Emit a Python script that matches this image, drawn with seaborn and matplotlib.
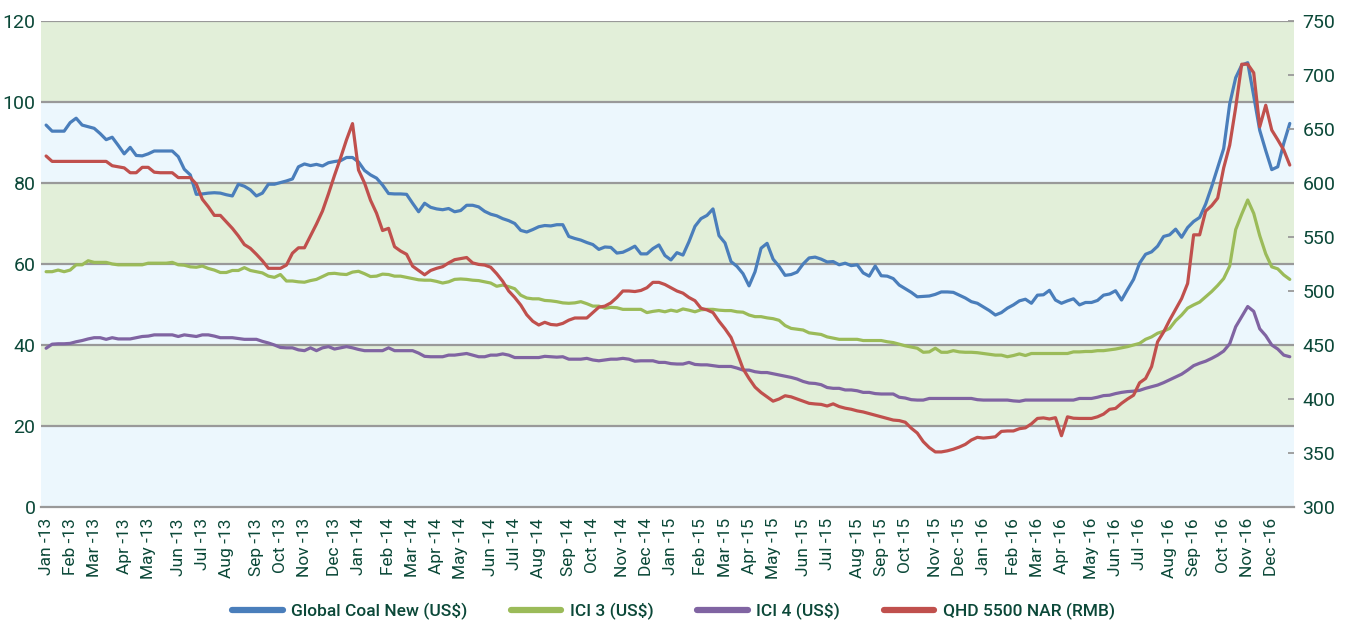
import seaborn as sns
import pandas as pd
import numpy as np
import matplotlib.pyplot as plt
from matplotlib.lines import Line2D

# weekly prices, Jan-13 .. Dec-16
dates = pd.date_range("2013-01-04", periods=208, freq="7D")

global_coal = [
    94.3, 92.8, 92.8, 92.8, 94.9, 96.0, 94.3, 93.9, 93.5, 92.2,
    90.7, 91.3, 89.3, 87.2, 88.8, 86.8, 86.7, 87.2, 87.9, 87.9,
    87.9, 87.9, 86.5, 83.4, 82.0, 77.2, 77.3, 77.5, 77.6, 77.5,
    77.1, 76.8, 79.7, 79.2, 78.3, 76.8, 77.5, 79.7, 79.7, 80.1,
    80.5, 81.0, 84.0, 84.7, 84.3, 84.6, 84.2, 85.0, 85.3, 85.5,
    86.3, 86.3, 85.2, 83.1, 82.0, 81.2, 79.5, 77.4, 77.3, 77.3,
    77.2, 75.0, 72.9, 75.0, 74.0, 73.6, 73.4, 73.7, 72.9, 73.2,
    74.5, 74.5, 74.1, 73.0, 72.3, 71.9, 71.2, 70.7, 70.0, 68.3,
    67.9, 68.5, 69.2, 69.5, 69.4, 69.7, 69.7, 66.8, 66.3, 65.9,
    65.3, 64.8, 63.6, 64.2, 64.1, 62.7, 62.9, 63.6, 64.4, 62.5,
    62.5, 63.8, 64.7, 62.1, 61.0, 62.8, 62.2, 65.5, 69.3, 71.2,
    72.0, 73.6, 67.0, 65.2, 60.6, 59.4, 57.6, 54.6, 58.1, 63.9,
    65.1, 61.2, 59.4, 57.2, 57.4, 58.0, 60.0, 61.5, 61.7, 61.2,
    60.5, 60.6, 59.8, 60.2, 59.6, 59.8, 57.8, 57.0, 59.5, 57.1,
    57.0, 56.4, 54.8, 53.9, 53.0, 51.9, 52.0, 52.1, 52.5, 53.1,
    53.1, 53.0, 52.3, 51.6, 50.7, 50.3, 49.4, 48.5, 47.4, 48.0,
    49.1, 49.9, 50.9, 51.3, 50.3, 52.3, 52.4, 53.5, 51.1, 50.3,
    50.9, 51.4, 49.9, 50.5, 50.5, 51.0, 52.3, 52.6, 53.4, 51.1,
    53.7, 56.2, 60.2, 62.4, 63.0, 64.4, 66.8, 67.2, 68.6, 66.6,
    69.0, 70.5, 71.5, 74.8, 79.1, 83.8, 88.5, 99.5, 106.0, 109.1,
    109.7, 101.5, 93.0, 88.0, 83.3, 84.0, 89.8, 94.7,
]

ici3 = [
    58.1, 58.1, 58.5, 58.1, 58.5, 59.8, 59.8, 60.8, 60.4, 60.4,
    60.4, 60.0, 59.8, 59.8, 59.8, 59.8, 59.8, 60.2, 60.2, 60.2,
    60.2, 60.4, 59.8, 59.7, 59.3, 59.2, 59.5, 58.9, 58.5, 57.9,
    57.9, 58.4, 58.4, 59.1, 58.4, 58.1, 57.8, 57.0, 56.7, 57.4,
    55.8, 55.8, 55.6, 55.5, 55.9, 56.2, 56.9, 57.6, 57.7, 57.5,
    57.4, 58.0, 58.2, 57.6, 56.9, 57.0, 57.5, 57.4, 57.0, 57.0,
    56.7, 56.4, 56.1, 56.0, 56.0, 55.7, 55.3, 55.6, 56.2, 56.3,
    56.2, 56.0, 55.9, 55.6, 55.3, 54.5, 54.8, 54.4, 53.9, 52.3,
    51.6, 51.4, 51.4, 51.0, 50.9, 50.7, 50.4, 50.3, 50.4, 50.7,
    50.2, 49.6, 49.6, 49.1, 49.3, 49.2, 48.8, 48.8, 48.8, 48.8,
    48.0, 48.3, 48.5, 48.2, 48.6, 48.3, 48.9, 48.6, 48.2, 48.7,
    48.8, 48.8, 48.6, 48.5, 48.5, 48.2, 48.1, 47.4, 47.0, 47.0,
    46.7, 46.5, 46.1, 44.8, 44.1, 43.9, 43.7, 43.0, 42.8, 42.6,
    42.0, 41.7, 41.4, 41.4, 41.4, 41.4, 41.1, 41.1, 41.1, 41.1,
    40.8, 40.6, 40.2, 39.8, 39.5, 39.2, 38.2, 38.3, 39.2, 38.2,
    38.2, 38.6, 38.3, 38.2, 38.2, 38.1, 37.9, 37.7, 37.5, 37.5,
    37.1, 37.4, 37.8, 37.4, 37.9, 37.9, 37.9, 37.9, 37.9, 37.9,
    37.9, 38.3, 38.3, 38.4, 38.4, 38.6, 38.6, 38.8, 39.0, 39.3,
    39.6, 40.0, 40.4, 41.4, 42.0, 42.9, 43.4, 44.1, 46.0, 47.4,
    49.1, 49.9, 50.6, 51.9, 53.2, 54.7, 56.4, 59.5, 68.5, 72.3,
    75.8, 72.5, 67.0, 62.5, 59.3, 58.8, 57.3, 56.2,
]

ici4 = [
    39.2, 40.2, 40.3, 40.3, 40.4, 40.8, 41.1, 41.5, 41.8, 41.8,
    41.4, 41.8, 41.5, 41.5, 41.5, 41.8, 42.1, 42.2, 42.5, 42.5,
    42.5, 42.5, 42.1, 42.5, 42.3, 42.1, 42.5, 42.5, 42.2, 41.8,
    41.8, 41.8, 41.6, 41.4, 41.4, 41.4, 40.9, 40.5, 40.0, 39.4,
    39.3, 39.3, 38.8, 38.6, 39.3, 38.6, 39.3, 39.6, 39.0, 39.3,
    39.6, 39.3, 38.9, 38.6, 38.6, 38.6, 38.6, 39.3, 38.6, 38.6,
    38.6, 38.6, 38.0, 37.2, 37.1, 37.1, 37.1, 37.5, 37.5, 37.7,
    37.9, 37.5, 37.1, 37.1, 37.5, 37.5, 37.8, 37.5, 36.9, 36.9,
    36.9, 36.9, 36.9, 37.2, 37.1, 37.0, 37.1, 36.5, 36.5, 36.5,
    36.7, 36.3, 36.1, 36.3, 36.5, 36.5, 36.7, 36.5, 36.0, 36.1,
    36.1, 36.1, 35.7, 35.7, 35.4, 35.3, 35.3, 35.7, 35.2, 35.1,
    35.1, 34.9, 34.7, 34.7, 34.7, 34.3, 33.8, 33.8, 33.4, 33.2,
    33.2, 32.9, 32.6, 32.3, 32.0, 31.6, 31.0, 30.6, 30.5, 30.2,
    29.5, 29.3, 29.3, 28.9, 28.9, 28.7, 28.3, 28.3, 28.0, 27.9,
    27.9, 27.9, 27.1, 26.9, 26.5, 26.4, 26.4, 26.8, 26.8, 26.8,
    26.8, 26.8, 26.8, 26.8, 26.8, 26.5, 26.4, 26.4, 26.4, 26.4,
    26.4, 26.2, 26.1, 26.4, 26.4, 26.4, 26.4, 26.4, 26.4, 26.4,
    26.4, 26.4, 26.8, 26.8, 26.8, 27.1, 27.5, 27.6, 28.0, 28.3,
    28.5, 28.6, 28.8, 29.3, 29.7, 30.1, 30.7, 31.4, 32.1, 32.8,
    33.8, 34.9, 35.5, 36.0, 36.7, 37.5, 38.5, 40.3, 44.5, 47.0,
    49.5, 48.3, 44.0, 42.3, 40.0, 39.0, 37.5, 37.1,
]

qhd5500 = [
    625, 620, 620, 620, 620, 620, 620, 620, 620, 620,
    620, 616, 615, 614, 609.5, 609.5, 614.5, 614.5, 610, 609.5,
    609.5, 609.5, 605, 605, 605, 599, 585, 578, 570, 570,
    564, 558, 551, 543, 539.5, 534, 528, 521, 521, 521,
    524, 535, 540, 540, 551, 562, 574, 590, 607, 623,
    640, 655, 612, 600, 584, 572, 556, 558, 541, 537,
    534, 523, 519, 515, 519, 521, 522.5, 526, 529, 530,
    531, 526, 524.6, 524, 522, 516, 509, 500, 494, 487,
    478, 472, 468.5, 471, 469, 468.5, 470, 473, 475, 475,
    475, 480, 485, 486, 489, 494, 500, 500, 499.5, 500.5,
    503, 508, 508, 506, 503, 500, 498, 494, 491, 484,
    482.5, 480, 472, 465, 457, 443, 428, 419, 411, 406,
    402, 398, 400, 403, 402, 400, 398, 396, 395.4, 395,
    393.5, 395.5, 393, 391.5, 390.5, 389, 388, 386.5, 385, 383.6,
    382, 380.5, 380, 378.5, 373, 368.5, 360.5, 355, 351, 351,
    352, 353.5, 355.5, 358, 362, 364.5, 363.8, 364.3, 365, 370,
    370.4, 370.4, 372.5, 373.3, 377, 382, 382.5, 381.5, 382.7, 366,
    383.5, 382.2, 382, 382, 382, 383.5, 386, 390.4, 391.3, 396,
    400, 403.5, 415, 419, 430, 453, 462, 473, 483, 493,
    507, 552, 552, 574, 579, 586, 614, 635, 670, 710,
    710, 702, 652, 672, 649, 640, 630.5, 616.6,
]

names = ["Global Coal New (US$)", "ICI 3 (US$)", "ICI 4 (US$)", "QHD 5500 NAR (RMB)"]
colors = ["#4a7ebb", "#9bbb59", "#8064a2", "#c0504d"]

df = pd.DataFrame({"date": dates, names[0]: global_coal, names[1]: ici3,
                   names[2]: ici4, names[3]: qhd5500})

sns.set_style("white")
plt.rcParams["font.family"] = ["Roboto", "DejaVu Sans"]
txt = "#0b4838"
grid = "#999999"

fig = plt.figure(figsize=(13.47, 6.23), dpi=100)
ax = fig.add_axes([0.0304, 0.1862, 0.9303, 0.7801])
ax2 = ax.twinx()

# alternating background bands + grid lines
band_cols = ["#ecf7fd", "#e2efd9"]
for k, lo in enumerate(range(0, 120, 20)):
    ax.axhspan(lo, lo + 20, color=band_cols[k % 2], lw=0, zorder=0)
for v in range(20, 121, 20):
    ax.axhline(v, color=grid, lw=1.6, zorder=1)

for name, col in zip(names[:3], colors[:3]):
    sns.lineplot(data=df, x="date", y=name, ax=ax, color=col, lw=2.3, legend=False)
sns.lineplot(data=df, x="date", y=names[3], ax=ax2, color=colors[3], lw=2.3, legend=False)

ax.set_ylim(0, 120)
ax2.set_ylim(300, 750)
ax.set_xlim(dates[0] - pd.Timedelta(days=6), dates[-1] + pd.Timedelta(days=5))
ax.set_yticks(range(0, 121, 20))
ax2.set_yticks(range(300, 751, 50))

# a tick at the first week of every month
firsts = df.groupby(df["date"].dt.to_period("M"))["date"].first()
ax.set_xticks(firsts.values)
ax.set_xticklabels([d.strftime("%b -%y") for d in firsts], rotation=90)

ax.tick_params(axis="x", length=5, width=1.3, color=grid, labelsize=12.5,
               labelcolor=txt, pad=3)
ax.tick_params(axis="y", length=0, pad=4, labelsize=14, labelcolor=txt)
ax2.tick_params(axis="y", direction="in", length=4, width=1.3, color=grid,
                labelsize=14, labelcolor=txt, pad=6)

for a in (ax, ax2):
    a.set_xlabel("")
    a.set_ylabel("")
    for s in a.spines.values():
        s.set_visible(False)
ax.spines["bottom"].set_visible(True)
ax.spines["bottom"].set_color(grid)
ax.spines["bottom"].set_linewidth(1.6)

handles = [Line2D([], [], color=c, lw=4.5) for c in colors]
leg = fig.legend(handles, names, loc="center", bbox_to_anchor=(0.5, 1 - 611 / 623),
                 ncol=4, frameon=False, handlelength=2.9, columnspacing=2.5,
                 handletextpad=0.5, prop={"size": 12.5, "weight": "medium"})
for t in leg.get_texts():
    t.set_color(txt)

fig.savefig("out.png", dpi=100)
